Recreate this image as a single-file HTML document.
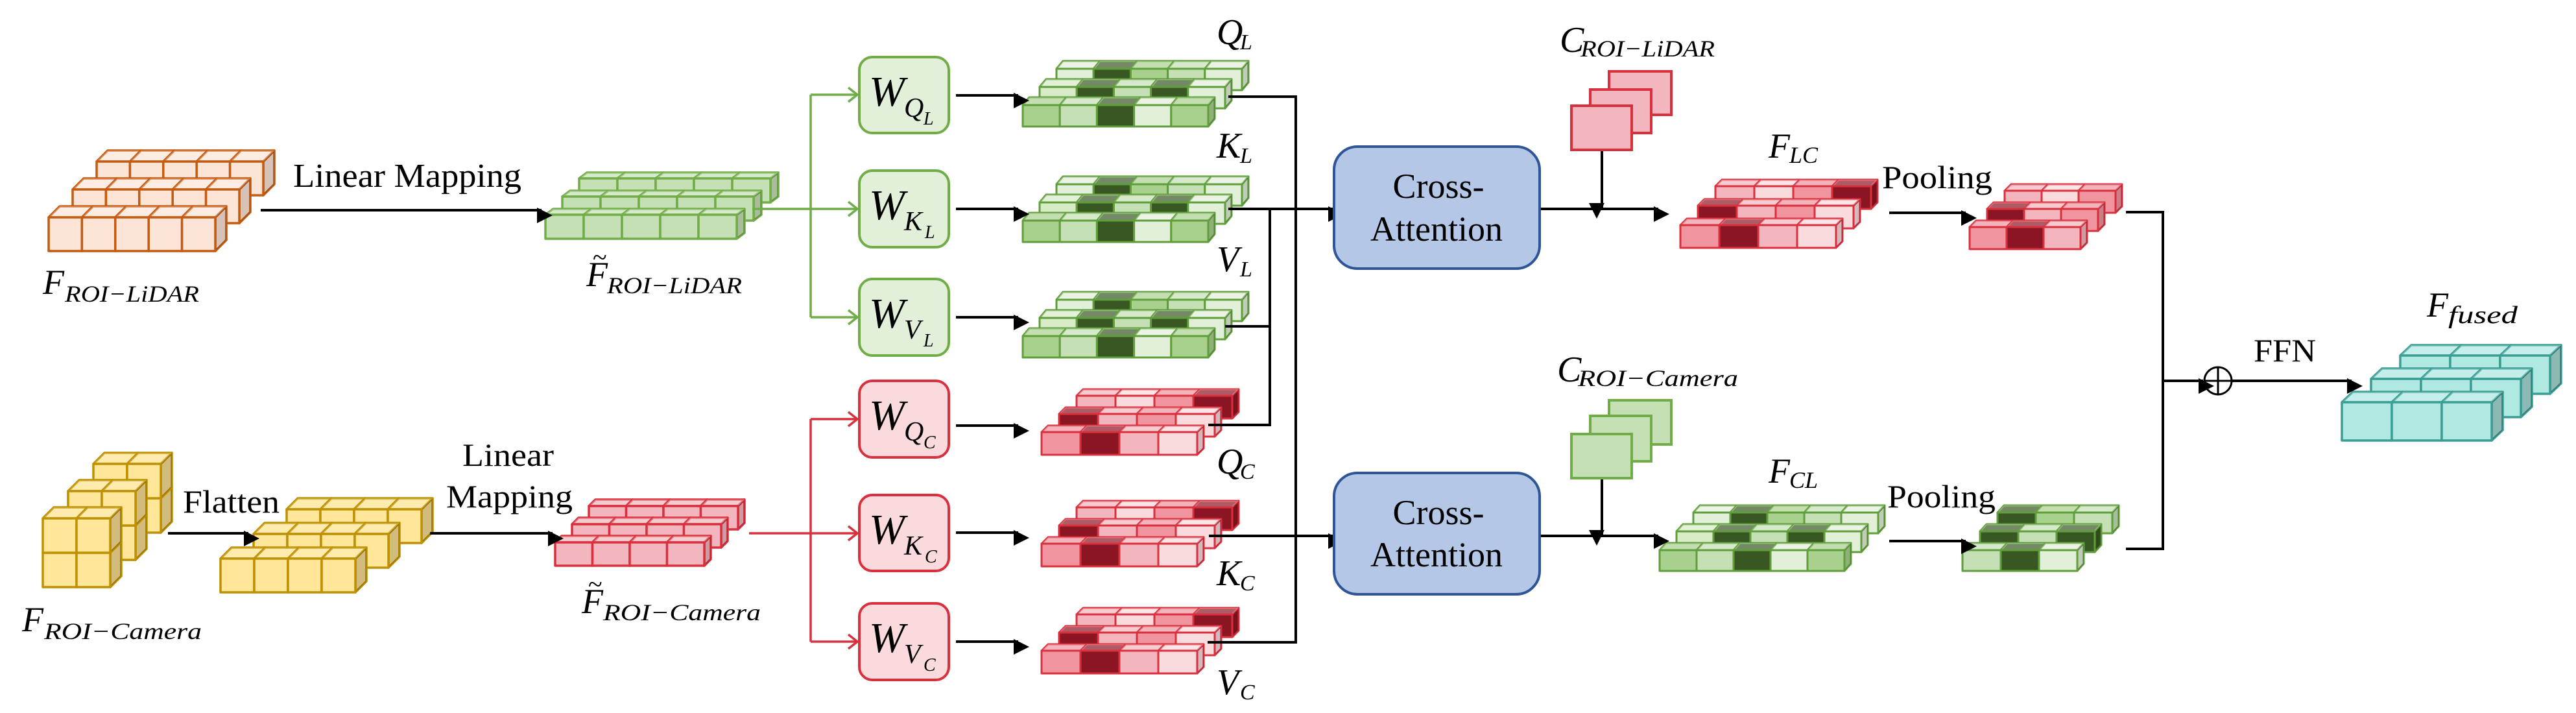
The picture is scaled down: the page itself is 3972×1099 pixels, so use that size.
<!DOCTYPE html>
<html><head><meta charset="utf-8">
<style>
html,body{margin:0;padding:0;background:#fff;}
svg{display:block;font-family:"Liberation Serif","DejaVu Serif",serif;}
svg text{font-family:"Liberation Serif","DejaVu Serif",serif;fill:#000;}
.m{font-style:italic;}
</style></head>
<body>
<svg width="3972" height="1099" viewBox="0 0 3972 1099" font-family="Liberation Serif, serif" xmlns="http://www.w3.org/2000/svg" xmlns:xlink="http://www.w3.org/1999/xlink">
<defs>
<marker id="ah" markerWidth="8" markerHeight="8" refX="7" refY="4" orient="auto" markerUnits="userSpaceOnUse" viewBox="0 0 8 8" style="overflow:visible">
<path d="M0,0 L8,4 L0,8 z" fill="#000" transform="scale(3)" />
</marker>
<marker id="ag" markerWidth="10" markerHeight="10" refX="0" refY="0" orient="auto" markerUnits="userSpaceOnUse" style="overflow:visible">
<path d="M-14,-11 L0,0 L-14,11" fill="none" stroke="#70ad47" stroke-width="3.5"/>
</marker>
<marker id="ar" markerWidth="10" markerHeight="10" refX="0" refY="0" orient="auto" markerUnits="userSpaceOnUse" style="overflow:visible">
<path d="M-14,-11 L0,0 L-14,11" fill="none" stroke="#d9303e" stroke-width="3.5"/>
</marker>
<g id="cA" stroke-linejoin="round"><path d="M0,0 l17,-17 h51.4 l-17,17 z"/><path d="M51.4,0 l17,-17 v52 l-17,17 z"/><path d="M0,0 l17,-17 h51.4 l-17,17 z" fill="#fff" fill-opacity=".3" stroke="none"/><path d="M51.4,0 l17,-17 v52 l-17,17 z" fill="#000" fill-opacity=".15" stroke="none"/><rect width="51.4" height="52"/></g>
<g id="cB" stroke-linejoin="round"><path d="M0,0 l12,-9 h59 l-12,9 z"/><path d="M59,0 l12,-9 v37 l-12,9 z"/><path d="M0,0 l12,-9 h59 l-12,9 z" fill="#fff" fill-opacity=".3" stroke="none"/><path d="M59,0 l12,-9 v37 l-12,9 z" fill="#000" fill-opacity=".15" stroke="none"/><rect width="59" height="37"/></g>
<g id="cC" stroke-linejoin="round"><path d="M0,0 l10,-12 h57.2 l-10,12 z"/><path d="M57.2,0 l10,-12 v33 l-10,12 z"/><path d="M0,0 l10,-12 h57.2 l-10,12 z" fill="#fff" fill-opacity=".3" stroke="none"/><path d="M57.2,0 l10,-12 v33 l-10,12 z" fill="#000" fill-opacity=".15" stroke="none"/><rect width="57.2" height="33"/></g>
<g id="cD" stroke-linejoin="round"><path d="M0,0 l10,-10 h60 l-10,10 z"/><path d="M60,0 l10,-10 v35 l-10,10 z"/><path d="M0,0 l10,-10 h60 l-10,10 z" fill="#fff" fill-opacity=".3" stroke="none"/><path d="M60,0 l10,-10 v35 l-10,10 z" fill="#000" fill-opacity=".15" stroke="none"/><rect width="60" height="35"/></g>
<g id="cE" stroke-linejoin="round"><path d="M0,0 l10,-10 h57 l-10,10 z"/><path d="M57,0 l10,-10 v34 l-10,10 z"/><path d="M0,0 l10,-10 h57 l-10,10 z" fill="#fff" fill-opacity=".3" stroke="none"/><path d="M57,0 l10,-10 v34 l-10,10 z" fill="#000" fill-opacity=".15" stroke="none"/><rect width="57" height="34"/></g>
<g id="cF" stroke-linejoin="round"><path d="M0,0 l10,-11 h57 l-10,11 z"/><path d="M57,0 l10,-11 v32 l-10,11 z"/><path d="M0,0 l10,-11 h57 l-10,11 z" fill="#fff" fill-opacity=".3" stroke="none"/><path d="M57,0 l10,-11 v32 l-10,11 z" fill="#000" fill-opacity=".15" stroke="none"/><rect width="57" height="32"/></g>
<g id="cG" stroke-linejoin="round"><path d="M0,0 l10,-11 h59 l-10,11 z"/><path d="M59,0 l10,-11 v32 l-10,11 z"/><path d="M0,0 l10,-11 h59 l-10,11 z" fill="#fff" fill-opacity=".3" stroke="none"/><path d="M59,0 l10,-11 v32 l-10,11 z" fill="#000" fill-opacity=".15" stroke="none"/><rect width="59" height="32"/></g>
<g id="cH" stroke-linejoin="round"><path d="M0,0 l17,-16 h77 l-17,16 z"/><path d="M77,0 l17,-16 v59 l-17,16 z"/><path d="M0,0 l17,-16 h77 l-17,16 z" fill="#fff" fill-opacity=".25" stroke="none"/><path d="M77,0 l17,-16 v59 l-17,16 z" fill="#000" fill-opacity=".2" stroke="none"/><rect width="77" height="59"/></g>
<g id="cI" stroke-linejoin="round"><path d="M0,0 l17,-17 h52 l-17,17 z"/><path d="M52,0 l17,-17 v53 l-17,17 z"/><path d="M0,0 l17,-17 h52 l-17,17 z" fill="#fff" fill-opacity=".2" stroke="none"/><path d="M52,0 l17,-17 v53 l-17,17 z" fill="#000" fill-opacity=".18" stroke="none"/><rect width="52" height="53"/></g>
<g id="cJ" stroke-linejoin="round"><path d="M0,0 l17,-17 h52 l-17,17 z"/><path d="M52,0 l17,-17 v52 l-17,17 z"/><path d="M0,0 l17,-17 h52 l-17,17 z" fill="#fff" fill-opacity=".2" stroke="none"/><path d="M52,0 l17,-17 v52 l-17,17 z" fill="#000" fill-opacity=".18" stroke="none"/><rect width="52" height="52"/></g>
<g id="cK" stroke-linejoin="round"><path d="M0,0 l10,-10 h57.5 l-10,10 z"/><path d="M57.5,0 l10,-10 v36 l-10,10 z"/><path d="M0,0 l10,-10 h57.5 l-10,10 z" fill="#fff" fill-opacity=".3" stroke="none"/><path d="M57.5,0 l10,-10 v36 l-10,10 z" fill="#000" fill-opacity=".15" stroke="none"/><rect width="57.5" height="36"/></g>

<g id="sGq" stroke="#5f9e3b" stroke-width="3">
<g transform="translate(52,-56)"><use href="#cC" x="0" fill="#e2f0d9"/><use href="#cC" x="57.2" fill="#385723"/><use href="#cC" x="114.4" fill="#a9d18e"/><use href="#cC" x="171.6" fill="#c5e0b4"/><use href="#cC" x="228.8" fill="#e2f0d9"/></g>
<g transform="translate(26,-28)"><use href="#cC" x="0" fill="#d6ebc6"/><use href="#cC" x="57.2" fill="#385723"/><use href="#cC" x="114.4" fill="#c5e0b4"/><use href="#cC" x="171.6" fill="#385723"/><use href="#cC" x="228.8" fill="#e2f0d9"/></g>
<g><use href="#cC" x="0" fill="#a9d18e"/><use href="#cC" x="57.2" fill="#c5e0b4"/><use href="#cC" x="114.4" fill="#385723"/><use href="#cC" x="171.6" fill="#e2f0d9"/><use href="#cC" x="228.8" fill="#a9d18e"/></g>
</g>
<g id="sRq" stroke="#d9303e" stroke-width="3">
<g transform="translate(54,-56)"><use href="#cD" x="0" fill="#f4b6be"/><use href="#cD" x="60" fill="#f9dadd"/><use href="#cD" x="120" fill="#f0949f"/><use href="#cD" x="180" fill="#8b1523"/></g>
<g transform="translate(27,-28)"><use href="#cD" x="0" fill="#8b1523"/><use href="#cD" x="60" fill="#f4b6be"/><use href="#cD" x="120" fill="#f0949f"/><use href="#cD" x="180" fill="#f9dadd"/></g>
<g><use href="#cD" x="0" fill="#f0949f"/><use href="#cD" x="60" fill="#8b1523"/><use href="#cD" x="120" fill="#f4b6be"/><use href="#cD" x="180" fill="#f9dadd"/></g>
</g>
</defs>

<g stroke="#c55a11" stroke-width="3.5" fill="#fce4d6">
<g transform="translate(149,249)"><use href="#cA" x="0"/><use href="#cA" x="51.4"/><use href="#cA" x="102.8"/><use href="#cA" x="154.2"/><use href="#cA" x="205.6"/></g>
<g transform="translate(112,292)"><use href="#cA" x="0"/><use href="#cA" x="51.4"/><use href="#cA" x="102.8"/><use href="#cA" x="154.2"/><use href="#cA" x="205.6"/></g>
<g transform="translate(75,335)"><use href="#cA" x="0"/><use href="#cA" x="51.4"/><use href="#cA" x="102.8"/><use href="#cA" x="154.2"/><use href="#cA" x="205.6"/></g>
</g>
<g stroke="#70ad47" stroke-width="3.5" fill="#c5e0b4">
<g transform="translate(893,275)"><use href="#cB" x="0"/><use href="#cB" x="59"/><use href="#cB" x="118"/><use href="#cB" x="177"/><use href="#cB" x="236"/></g>
<g transform="translate(867,303)"><use href="#cB" x="0"/><use href="#cB" x="59"/><use href="#cB" x="118"/><use href="#cB" x="177"/><use href="#cB" x="236"/></g>
<g transform="translate(841,331)"><use href="#cB" x="0"/><use href="#cB" x="59"/><use href="#cB" x="118"/><use href="#cB" x="177"/><use href="#cB" x="236"/></g>
</g>
<g stroke="#bf9000" stroke-width="3.5" fill="#ffe699">
<g transform="translate(144,715)"><use href="#cI" x="0" y="53"/><use href="#cI" x="52" y="53"/><use href="#cI" x="0"/><use href="#cI" x="52"/></g>
<g transform="translate(105,757)"><use href="#cI" x="0" y="53"/><use href="#cI" x="52" y="53"/><use href="#cI" x="0"/><use href="#cI" x="52"/></g>
<g transform="translate(66,799)"><use href="#cI" x="0" y="53"/><use href="#cI" x="52" y="53"/><use href="#cI" x="0"/><use href="#cI" x="52"/></g>
<g transform="translate(442,785)"><use href="#cJ" x="0"/><use href="#cJ" x="52"/><use href="#cJ" x="104"/><use href="#cJ" x="156"/></g>
<g transform="translate(391,823)"><use href="#cJ" x="0"/><use href="#cJ" x="52"/><use href="#cJ" x="104"/><use href="#cJ" x="156"/></g>
<g transform="translate(340,861)"><use href="#cJ" x="0"/><use href="#cJ" x="52"/><use href="#cJ" x="104"/><use href="#cJ" x="156"/></g>
</g>
<g stroke="#d9303e" stroke-width="3.5" fill="#f4b6be">
<g transform="translate(908,780)"><use href="#cK" x="0"/><use href="#cK" x="57.5"/><use href="#cK" x="115"/><use href="#cK" x="172.5"/></g>
<g transform="translate(882,808)"><use href="#cK" x="0"/><use href="#cK" x="57.5"/><use href="#cK" x="115"/><use href="#cK" x="172.5"/></g>
<g transform="translate(856,836)"><use href="#cK" x="0"/><use href="#cK" x="57.5"/><use href="#cK" x="115"/><use href="#cK" x="172.5"/></g>
</g>
<use href="#sGq" x="1577" y="162"/>
<use href="#sGq" x="1577" y="340"/>
<use href="#sGq" x="1577" y="518"/>
<use href="#sRq" x="1606" y="666"/>
<use href="#sRq" x="1606" y="838"/>
<use href="#sRq" x="1606" y="1003"/>
<g stroke="#d9303e" stroke-width="3">
<g transform="translate(2645,287)"><use href="#cD" x="0" fill="#f4b6be"/><use href="#cD" x="60" fill="#f9dadd"/><use href="#cD" x="120" fill="#f0949f"/><use href="#cD" x="180" fill="#8b1523"/></g>
<g transform="translate(2618,317)"><use href="#cD" x="0" fill="#8b1523"/><use href="#cD" x="60" fill="#f4b6be"/><use href="#cD" x="120" fill="#f0949f"/><use href="#cD" x="180" fill="#f9dadd"/></g>
<g transform="translate(2591,347)"><use href="#cD" x="0" fill="#f0949f"/><use href="#cD" x="60" fill="#8b1523"/><use href="#cD" x="120" fill="#f4b6be"/><use href="#cD" x="180" fill="#f9dadd"/></g>
<g transform="translate(3091,294)"><use href="#cE" x="0" fill="#f4b6be"/><use href="#cE" x="57" fill="#f9dadd"/><use href="#cE" x="114" fill="#f0949f"/></g>
<g transform="translate(3064,322)"><use href="#cE" x="0" fill="#8b1523"/><use href="#cE" x="57" fill="#f4b6be"/><use href="#cE" x="114" fill="#f0949f"/></g>
<g transform="translate(3037,350)"><use href="#cE" x="0" fill="#f0949f"/><use href="#cE" x="57" fill="#8b1523"/><use href="#cE" x="114" fill="#f4b6be"/></g>
</g>
<g stroke="#5f9e3b" stroke-width="3">
<g transform="translate(2611,790)"><use href="#cF" x="0" fill="#e2f0d9"/><use href="#cF" x="57" fill="#385723"/><use href="#cF" x="114" fill="#a9d18e"/><use href="#cF" x="171" fill="#c5e0b4"/><use href="#cF" x="228" fill="#e2f0d9"/></g>
<g transform="translate(2585,819)"><use href="#cF" x="0" fill="#d6ebc6"/><use href="#cF" x="57" fill="#385723"/><use href="#cF" x="114" fill="#c5e0b4"/><use href="#cF" x="171" fill="#385723"/><use href="#cF" x="228" fill="#e2f0d9"/></g>
<g transform="translate(2559,848)"><use href="#cF" x="0" fill="#a9d18e"/><use href="#cF" x="57" fill="#c5e0b4"/><use href="#cF" x="114" fill="#385723"/><use href="#cF" x="171" fill="#e2f0d9"/><use href="#cF" x="228" fill="#a9d18e"/></g>
<g transform="translate(3080,790)"><use href="#cG" x="0" fill="#385723"/><use href="#cG" x="59" fill="#a9d18e"/><use href="#cG" x="118" fill="#c5e0b4"/></g>
<g transform="translate(3053,819)"><use href="#cG" x="0" fill="#385723"/><use href="#cG" x="59" fill="#c5e0b4"/><use href="#cG" x="118" fill="#385723"/></g>
<g transform="translate(3026,848)"><use href="#cG" x="0" fill="#c5e0b4"/><use href="#cG" x="59" fill="#385723"/><use href="#cG" x="118" fill="#e2f0d9"/></g>
</g>
<g stroke="#3a9e95" stroke-width="3.5" fill="#b0e8e2">
<g transform="translate(3701,548)"><use href="#cH" x="0"/><use href="#cH" x="77"/><use href="#cH" x="154"/></g>
<g transform="translate(3656,584)"><use href="#cH" x="0"/><use href="#cH" x="77"/><use href="#cH" x="154"/></g>
<g transform="translate(3611,620)"><use href="#cH" x="0"/><use href="#cH" x="77"/><use href="#cH" x="154"/></g>
</g>

<g fill="none" stroke-width="3.5">
<path d="M1160,322 H1250 M1250,146 V489" stroke="#70ad47"/>
<path d="M1250,146 H1322" stroke="#70ad47" marker-end="url(#ag)"/>
<path d="M1250,322 H1322" stroke="#70ad47" marker-end="url(#ag)"/>
<path d="M1250,489 H1322" stroke="#70ad47" marker-end="url(#ag)"/>
<path d="M1155,822 H1250 M1250,646 V989" stroke="#d9303e"/>
<path d="M1250,646 H1322" stroke="#d9303e" marker-end="url(#ar)"/>
<path d="M1250,822 H1322" stroke="#d9303e" marker-end="url(#ar)"/>
<path d="M1250,989 H1322" stroke="#d9303e" marker-end="url(#ar)"/>
</g>

<g stroke-width="4">
<rect x="1325" y="88" width="138" height="117" rx="20" fill="#e2efd9" stroke="#70ad47"/>
<rect x="1325" y="263" width="138" height="118" rx="20" fill="#e2efd9" stroke="#70ad47"/>
<rect x="1325" y="430" width="138" height="118" rx="20" fill="#e2efd9" stroke="#70ad47"/>
<rect x="1325" y="587" width="138" height="118" rx="20" fill="#fadadd" stroke="#d9303e"/>
<rect x="1325" y="763" width="138" height="117" rx="20" fill="#fadadd" stroke="#d9303e"/>
<rect x="1325" y="930" width="138" height="118" rx="20" fill="#fadadd" stroke="#d9303e"/>
</g>
<g class="m">
<text x="1340" y="163" font-size="66">W</text><text x="1394" y="180" font-size="42">Q</text><text x="1424" y="192" font-size="28">L</text>
<text x="1340" y="338" font-size="66">W</text><text x="1394" y="355" font-size="42">K</text><text x="1426" y="367" font-size="28">L</text>
<text x="1340" y="505" font-size="66">W</text><text x="1394" y="522" font-size="42">V</text><text x="1424" y="534" font-size="28">L</text>
<text x="1340" y="662" font-size="66">W</text><text x="1394" y="679" font-size="42">Q</text><text x="1424" y="691" font-size="28">C</text>
<text x="1340" y="838" font-size="66">W</text><text x="1394" y="855" font-size="42">K</text><text x="1426" y="867" font-size="28">C</text>
<text x="1340" y="1005" font-size="66">W</text><text x="1394" y="1022" font-size="42">V</text><text x="1424" y="1034" font-size="28">C</text>
</g>

<g fill="none" stroke="#000" stroke-width="4">
<path d="M402,324 H835" marker-end="url(#ah)"/>
<path d="M259,822 H383" marker-end="url(#ah)"/>
<path d="M663,822 H852" marker-end="url(#ah)"/>
<path d="M1474,147 H1570" marker-end="url(#ah)"/>
<path d="M1474,322 H1570" marker-end="url(#ah)"/>
<path d="M1474,489 H1570" marker-end="url(#ah)"/>
<path d="M1474,656 H1570" marker-end="url(#ah)"/>
<path d="M1474,821 H1570" marker-end="url(#ah)"/>
<path d="M1474,989 H1570" marker-end="url(#ah)"/>
<path d="M1894,149 H1998 V990 H1862"/>
<path d="M1889,503 H1958 M1958,322 V655 H1863"/>
<path d="M1894,322 H2055" marker-end="url(#ah)"/>
<path d="M1864,826 H2055" marker-end="url(#ah)"/>
<path d="M2374,322 H2557" marker-end="url(#ah)"/>
<path d="M2374,826 H2557" marker-end="url(#ah)"/>
<path d="M2470,231 V320" marker-end="url(#ah)"/>
<path d="M2470,737 V824" marker-end="url(#ah)"/>
<path d="M2913,328 H3031" marker-end="url(#ah)"/>
<path d="M2913,834 H3031" marker-end="url(#ah)"/>
<path d="M3278,327 H3335 V846 H3278"/>
<path d="M3335,587 H3397" marker-end="url(#ah)"/>
<path d="M3441,587 H3626" marker-end="url(#ah)"/>
</g>
<g fill="none" stroke="#000" stroke-width="3">
<circle cx="3420" cy="587" r="21"/>
<path d="M3399,587 H3441 M3420,566 V608"/>
</g>

<rect x="2057" y="226" width="317" height="188" rx="36" fill="#b4c7e7" stroke="#2f5597" stroke-width="4"/>
<rect x="2057" y="729" width="317" height="187" rx="36" fill="#b4c7e7" stroke="#2f5597" stroke-width="4"/>
<g font-size="54" text-anchor="middle" font-family="Liberation Serif, serif">
<text x="2218" y="305">Cross-</text><text x="2215" y="371">Attention</text>
<text x="2218" y="808">Cross-</text><text x="2215" y="873">Attention</text>
</g>

<g stroke="#d9303e" stroke-width="4" fill="#f4b6be">
<rect x="2481" y="110" width="96" height="67"/><rect x="2452" y="138" width="94" height="67"/><rect x="2423" y="163" width="93" height="68"/>
</g>
<g stroke="#70ad47" stroke-width="4" fill="#c5e0b4">
<rect x="2481" y="617" width="96" height="68"/><rect x="2452" y="641" width="94" height="70"/><rect x="2423" y="669" width="93" height="68"/>
</g>

<g font-family="Liberation Serif, serif">
<text x="452" y="288" font-size="52" textLength="352" lengthAdjust="spacingAndGlyphs">Linear Mapping</text>
<text x="282" y="790" font-size="50" textLength="149" lengthAdjust="spacingAndGlyphs">Flatten</text>
<text x="713" y="718" font-size="50" textLength="141" lengthAdjust="spacingAndGlyphs">Linear</text>
<text x="688" y="782" font-size="50" textLength="195" lengthAdjust="spacingAndGlyphs">Mapping</text>
<text x="2902" y="290" font-size="50" textLength="170" lengthAdjust="spacingAndGlyphs">Pooling</text>
<text x="2910" y="782" font-size="50" textLength="167" lengthAdjust="spacingAndGlyphs">Pooling</text>
<text x="3475" y="557" font-size="50" textLength="96" lengthAdjust="spacingAndGlyphs">FFN</text>
</g>

<g class="m" font-family="Liberation Serif, serif">
<text x="66" y="453" font-size="54">F</text><text x="100" y="465" font-size="36" textLength="207" lengthAdjust="spacingAndGlyphs">ROI−LiDAR</text>
<text x="904" y="441" font-size="54">F</text><text x="914" y="410" font-size="40" style="font-style:normal">~</text><text x="936" y="452" font-size="36" textLength="208" lengthAdjust="spacingAndGlyphs">ROI−LiDAR</text>
<text x="34" y="973" font-size="54">F</text><text x="68" y="985" font-size="36" textLength="243" lengthAdjust="spacingAndGlyphs">ROI−Camera</text>
<text x="897" y="945" font-size="54">F</text><text x="907" y="914" font-size="40" style="font-style:normal">~</text><text x="930" y="956" font-size="36" textLength="243" lengthAdjust="spacingAndGlyphs">ROI−Camera</text>
<text x="1876" y="68" font-size="56">Q</text><text x="1912" y="76" font-size="34">L</text>
<text x="1876" y="243" font-size="56">K</text><text x="1912" y="251" font-size="34">L</text>
<text x="1876" y="418" font-size="56">V</text><text x="1912" y="426" font-size="34">L</text>
<text x="1876" y="730" font-size="56">Q</text><text x="1912" y="738" font-size="34">C</text>
<text x="1876" y="902" font-size="56">K</text><text x="1912" y="910" font-size="34">C</text>
<text x="1876" y="1070" font-size="56">V</text><text x="1912" y="1078" font-size="34">C</text>
<text x="2405" y="80" font-size="56">C</text><text x="2437" y="87" font-size="36" textLength="207" lengthAdjust="spacingAndGlyphs">ROI−LiDAR</text>
<text x="2401" y="588" font-size="56">C</text><text x="2433" y="595" font-size="36" textLength="247" lengthAdjust="spacingAndGlyphs">ROI−Camera</text>
<text x="2727" y="243" font-size="54">F</text><text x="2759" y="251" font-size="36">LC</text>
<text x="2727" y="744" font-size="54">F</text><text x="2759" y="752" font-size="36">CL</text>
<text x="3742" y="488" font-size="54">F</text><text x="3775" y="498" font-size="38" textLength="107" lengthAdjust="spacingAndGlyphs">fused</text>
</g>
</svg>
</body></html>
